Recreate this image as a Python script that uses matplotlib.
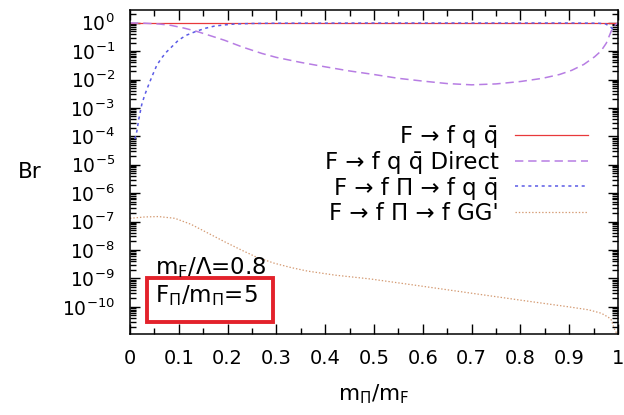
import numpy as np
import matplotlib
matplotlib.use('Agg')
import matplotlib.pyplot as plt
from matplotlib.ticker import FixedLocator, MultipleLocator, LogLocator, FuncFormatter, NullFormatter, FixedFormatter
from matplotlib.patches import Rectangle

plt.rcParams['font.family'] = ['DejaVu Sans']
plt.rcParams['lines.scale_dashes'] = False

# ---- data ----
x_total = [0.0, 0.25, 0.5, 0.75, 1.0]
br_total = [0.98, 0.98, 0.98, 0.98, 0.98]

x_direct = [0.0, 0.03, 0.06, 0.085, 0.11, 0.136, 0.16, 0.194, 0.23, 0.27, 0.3, 0.35,
            0.4, 0.45, 0.5, 0.55, 0.6, 0.65, 0.7, 0.75, 0.8, 0.845, 0.88, 0.905,
            0.93, 0.952, 0.965, 0.976, 0.986, 0.993, 1.0]
br_direct = [0.98, 0.96, 0.9, 0.8, 0.65, 0.5, 0.37, 0.24, 0.14, 0.083, 0.06, 0.04,
             0.028, 0.02, 0.015, 0.011, 0.0088, 0.0072, 0.0065, 0.007, 0.0085, 0.011, 0.015, 0.021,
             0.034, 0.063, 0.1, 0.19, 0.5, 0.8, 0.98]

x_pi_qq = [0.01, 0.014, 0.018, 0.024, 0.03, 0.038, 0.046, 0.055, 0.065, 0.075, 0.087,
           0.099, 0.115, 0.136, 0.155, 0.173, 0.195, 0.214, 0.25, 0.3, 0.5, 0.7, 0.9,
           0.96, 0.975, 0.985, 0.995]
br_pi_qq = [8e-5, 1.5e-4, 4e-4, 1.3e-3, 2.8e-3, 6.4e-3, 0.014, 0.032, 0.058, 0.094, 0.15,
            0.24, 0.36, 0.5, 0.64, 0.76, 0.84, 0.9, 0.94, 0.96, 0.975, 0.975, 0.975,
            0.96, 0.9, 0.7, 0.5]

x_pi_gg = [0.0, 0.03, 0.058, 0.092, 0.125, 0.16, 0.195, 0.228, 0.26, 0.296, 0.33, 0.364,
           0.42, 0.493, 0.592, 0.694, 0.796, 0.898, 0.94, 0.966, 0.98, 0.986, 0.993, 0.998]
br_pi_gg = [1.3e-7, 1.45e-7, 1.5e-7, 1.3e-7, 8e-8, 3.9e-8, 1.9e-8, 1e-8, 5.5e-9, 3.4e-9, 2.4e-9, 1.8e-9,
            1.3e-9, 9.5e-10, 5.5e-10, 3.1e-10, 1.75e-10, 1e-10, 7.8e-11, 5.9e-11, 4.3e-11, 3.5e-11, 1.6e-11, 1.1e-11]

series_labels = ['F \u2192 f q q\u0304',
                 'F \u2192 f q q\u0304 Direct',
                 'F \u2192 f \u03a0 \u2192 f q q\u0304',
                 "F \u2192 f \u03a0 \u2192 f GG'"]

xtick_values = [0, 0.1, 0.2, 0.3, 0.4, 0.5, 0.6, 0.7, 0.8, 0.9, 1.0]
xtick_labels = ['0', '0.1', '0.2', '0.3', '0.4', '0.5', '0.6', '0.7', '0.8', '0.9', '1']
ytick_exponents = [0, -1, -2, -3, -4, -5, -6, -7, -8, -9, -10]

# ---- figure ----
fig = plt.figure(figsize=(6.24, 4.15), dpi=100)
ax = fig.add_axes([130 / 624, 81 / 415, 488 / 624, 324 / 415])

c_red = '#e8393b'
c_purple = '#b77de3'
c_blue = '#5b5be6'
c_orange = '#d49a72'

ax.plot(x_total, br_total, color=c_red, lw=0.9, label=series_labels[0])
ax.plot(x_direct, br_direct, color=c_purple, lw=1.1, dashes=(6, 3.5), label=series_labels[1])
ax.plot(x_pi_qq, br_pi_qq, color=c_blue, lw=1.1, dashes=(2.2, 2.6), label=series_labels[2])
ax.plot(x_pi_gg, br_pi_gg, color=c_orange, lw=0.9, dashes=(1.0, 1.4), label=series_labels[3])

ax.set_yscale('log')
ax.set_xlim(0, 1)
ax.set_ylim(1.1e-11, 2.8)

ax.xaxis.set_major_locator(FixedLocator(xtick_values))
ax.xaxis.set_major_formatter(FixedFormatter(xtick_labels))
ax.xaxis.set_minor_locator(MultipleLocator(0.05))
ax.yaxis.set_major_locator(FixedLocator([10.0 ** e for e in ytick_exponents]))
ax.yaxis.set_major_formatter(FuncFormatter(lambda v, p: r'$\mathregular{10^{%d}}$' % round(np.log10(v))))
ax.yaxis.set_minor_locator(LogLocator(base=10, subs=np.arange(2, 10), numticks=100))
ax.yaxis.set_minor_formatter(NullFormatter())

ax.tick_params(which='both', direction='in', top=True, right=True, width=1.0, color='black')
ax.tick_params(which='major', length=7.5, pad=11)
ax.tick_params(axis='y', which='major', labelsize=13.5)
ax.tick_params(axis='x', which='major', labelsize=14)
ax.tick_params(which='minor', length=4)
for s in ax.spines.values():
    s.set_linewidth(1.1)

ax.set_ylabel('Br', rotation=0, fontsize=15.5, ha='center', va='center')
ax.yaxis.set_label_coords((30 - 130) / 488, 0.5)
ax.set_xlabel(r'm$_\Pi$/m$_\mathregular{F}$', fontsize=15.5, va='center')
ax.xaxis.set_label_coords(0.5, (334 - 394) / 324)

leg = ax.legend(loc='upper right', bbox_to_anchor=((588 - 130) / 488, (334 - 125) / 324),
                frameon=False, markerfirst=False, fontsize=16.5, handlelength=3.2,
                handletextpad=0.7, labelspacing=0.12, borderpad=0, borderaxespad=0)

ax.text((155 - 130) / 488, (334 - 268) / 324, r'm$_\mathregular{F}$/$\Lambda$=0.8',
        transform=ax.transAxes, fontsize=16.5, ha='left', va='center')
ax.text((155 - 130) / 488, (334 - 296) / 324, r'F$_\Pi$/m$_\Pi$=5',
        transform=ax.transAxes, fontsize=16.5, ha='left', va='center')
ax.add_patch(Rectangle(((147 - 130) / 488, (334 - 321.5) / 324), (273 - 147) / 488, (321.5 - 278) / 324,
                       transform=ax.transAxes, fill=False, edgecolor='#e3222b', lw=2.8, clip_on=False))

fig.savefig('out.png', dpi=100)
